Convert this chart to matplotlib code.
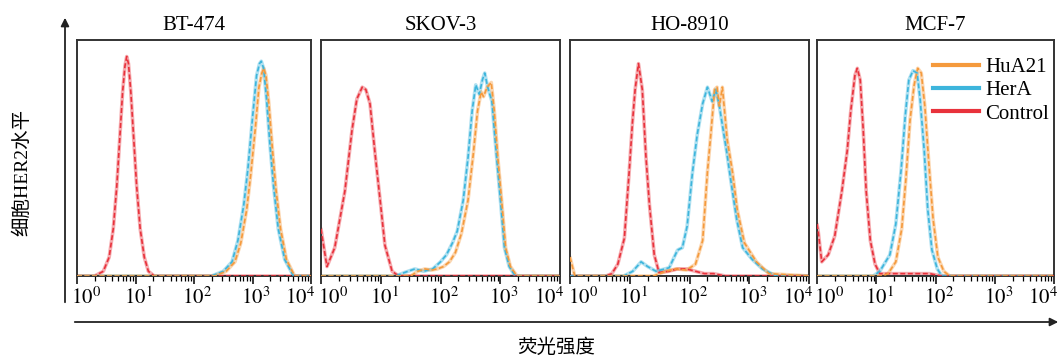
import numpy as np
import matplotlib
matplotlib.use("Agg")
import matplotlib.pyplot as plt
import matplotlib.transforms as mtransforms
from matplotlib.lines import Line2D
from matplotlib.patches import FancyArrowPatch

plt.rcParams['mathtext.fontset'] = 'stix'
plt.rcParams['font.family'] = ['Liberation Serif', 'Noto Sans CJK SC']

# ---------------- data (x as log10 fluorescence intensity, y as relative cell count) -------------
panel_titles = ["BT-474", "SKOV-3", "HO-8910", "MCF-7"]
series_names = ["HuA21", "HerA", "Control"]
tick_values = [1, 10, 100, 1000, 10000]
tick_labels = [r"$10^{0}$", r"$10^{1}$", r"$10^{2}$", r"$10^{3}$", r"$10^{4}$"]

# BT-474
bt_ctrl_x = [0, 0.3, 0.45, 0.55, 0.62, 0.68, 0.73, 0.78, 0.82, 0.85, 0.88, 0.92, 0.97, 1.02, 1.08, 1.15, 1.22, 1.32, 4.0]
bt_ctrl_y = [0, 0, 0.02, 0.08, 0.2, 0.38, 0.58, 0.78, 0.89, 0.93, 0.9, 0.78, 0.58, 0.38, 0.2, 0.08, 0.02, 0, 0]
bt_hera_x = [0, 2.3, 2.5, 2.65, 2.75, 2.85, 2.92, 3.0, 3.07, 3.12, 3.15, 3.19, 3.24, 3.3, 3.36, 3.44, 3.55, 3.7, 4.0]
bt_hera_y = [0, 0, 0.02, 0.06, 0.15, 0.3, 0.45, 0.67, 0.85, 0.9, 0.91, 0.88, 0.75, 0.55, 0.38, 0.2, 0.07, 0, 0]
bt_hua_x = [0, 2.35, 2.55, 2.7, 2.8, 2.9, 2.97, 3.05, 3.11, 3.16, 3.19, 3.23, 3.28, 3.34, 3.4, 3.48, 3.58, 3.72, 4.0]
bt_hua_y = [0, 0, 0.02, 0.06, 0.14, 0.28, 0.43, 0.63, 0.8, 0.86, 0.88, 0.85, 0.73, 0.54, 0.37, 0.2, 0.07, 0, 0]

# SKOV-3
sk_ctrl_x = [0, 0.03, 0.1, 0.23, 0.4, 0.52, 0.6, 0.69, 0.75, 0.82, 0.9, 0.99, 1.07, 1.19, 1.3, 4.0]
sk_ctrl_y = [0.2, 0.15, 0.04, 0.12, 0.36, 0.62, 0.75, 0.80, 0.79, 0.73, 0.53, 0.32, 0.13, 0.02, 0, 0]
sk_hera_x = [0, 1.25, 1.4, 1.57, 1.72, 1.87, 2.0, 2.1, 2.2, 2.28, 2.38, 2.46, 2.53, 2.59, 2.65, 2.7, 2.74, 2.79, 2.86, 2.93, 3.0, 3.07, 3.15, 3.25, 4.0]
sk_hera_y = [0, 0, 0.015, 0.03, 0.02, 0.03, 0.06, 0.09, 0.14, 0.19, 0.32, 0.5, 0.7, 0.81, 0.77, 0.83, 0.86, 0.8, 0.74, 0.53, 0.33, 0.12, 0.04, 0, 0]
sk_hua_x = [0, 1.5, 1.62, 1.74, 1.85, 1.95, 2.05, 2.15, 2.25, 2.35, 2.46, 2.55, 2.62, 2.68, 2.72, 2.78, 2.85, 2.9, 2.96, 3.02, 3.09, 3.17, 3.28, 4.0]
sk_hua_y = [0, 0, 0.02, 0.03, 0.025, 0.03, 0.04, 0.06, 0.1, 0.18, 0.32, 0.52, 0.7, 0.78, 0.76, 0.80, 0.82, 0.7, 0.5, 0.33, 0.12, 0.04, 0, 0]

# HO-8910
ho_ctrl_x = [0, 0.6, 0.7, 0.8, 0.91, 0.99, 1.045, 1.09, 1.146, 1.21, 1.27, 1.33, 1.41, 1.49, 1.65, 1.8, 1.95, 2.1, 2.25, 2.4, 2.6, 4.0]
ho_ctrl_y = [0, 0, 0.01, 0.05, 0.16, 0.44, 0.65, 0.79, 0.90, 0.79, 0.51, 0.30, 0.09, 0.015, 0.02, 0.03, 0.03, 0.02, 0.01, 0.01, 0, 0]
ho_hera_x = [0, 0.9, 1.05, 1.19, 1.3, 1.44, 1.66, 1.8, 1.88, 1.96, 2.05, 2.13, 2.22, 2.30, 2.38, 2.44, 2.5, 2.62, 2.70, 2.79, 2.89, 3.05, 3.22, 3.45, 4.0]
ho_hera_y = [0, 0, 0.02, 0.06, 0.04, 0.02, 0.035, 0.11, 0.12, 0.21, 0.44, 0.60, 0.73, 0.80, 0.74, 0.79, 0.72, 0.53, 0.39, 0.24, 0.12, 0.07, 0.03, 0, 0]
ho_hua_x = [0, 0.03, 0.08, 1.4, 1.6, 1.78, 1.95, 2.1, 2.22, 2.3, 2.36, 2.42, 2.46, 2.5, 2.55, 2.63, 2.72, 2.8, 2.92, 3.12, 3.33, 4.0]
ho_hua_y = [0.08, 0.05, 0, 0, 0.02, 0.03, 0.025, 0.05, 0.15, 0.44, 0.61, 0.79, 0.80, 0.72, 0.80, 0.58, 0.44, 0.28, 0.14, 0.06, 0.01, 0]

# MCF-7
mc_ctrl_x = [0, 0.02, 0.08, 0.19, 0.30, 0.42, 0.51, 0.57, 0.64, 0.68, 0.73, 0.78, 0.83, 0.9, 0.98, 1.06, 1.3, 1.6, 1.9, 2.1, 4.0]
mc_ctrl_y = [0.22, 0.19, 0.06, 0.09, 0.17, 0.36, 0.53, 0.70, 0.85, 0.88, 0.83, 0.62, 0.36, 0.15, 0.05, 0.01, 0.01, 0.01, 0.01, 0, 0]
mc_hera_x = [0, 0.95, 1.06, 1.23, 1.33, 1.42, 1.49, 1.55, 1.62, 1.69, 1.74, 1.81, 1.87, 1.94, 2.03, 2.11, 4.0]
mc_hera_y = [0, 0, 0.02, 0.09, 0.22, 0.45, 0.68, 0.83, 0.87, 0.86, 0.75, 0.53, 0.28, 0.11, 0.03, 0, 0]
mc_hua_x = [0, 1.1, 1.2, 1.33, 1.43, 1.5, 1.57, 1.64, 1.7, 1.76, 1.82, 1.89, 1.96, 2.04, 2.14, 2.24, 4.0]
mc_hua_y = [0, 0, 0.01, 0.06, 0.2, 0.41, 0.66, 0.81, 0.88, 0.86, 0.72, 0.47, 0.24, 0.08, 0.02, 0, 0]

panels = [
    [(bt_ctrl_x, bt_ctrl_y), (bt_hera_x, bt_hera_y), (bt_hua_x, bt_hua_y)],
    [(sk_ctrl_x, sk_ctrl_y), (sk_hera_x, sk_hera_y), (sk_hua_x, sk_hua_y)],
    [(ho_ctrl_x, ho_ctrl_y), (ho_hera_x, ho_hera_y), (ho_hua_x, ho_hua_y)],
    [(mc_ctrl_x, mc_ctrl_y), (mc_hera_x, mc_hera_y), (mc_hua_x, mc_hua_y)],
]

# ---------------- style ----------------
colors = ["#E8323C", "#3DB5DC", "#F59A3C"]   # Control, HerA, HuA21
W, H = 1061, 358
fig = plt.figure(figsize=(W / 100, H / 100), dpi=100)

boxes = [(77, 311), (321, 560), (570, 809), (817, 1054)]
top_px, bot_px = 40, 276

for i, (l, r) in enumerate(boxes):
    ax = fig.add_axes([l / W, 1 - bot_px / H, (r - l) / W, (bot_px - top_px) / H])
    for (xs, ys), c in zip(panels[i], colors):
        xv = 10 ** np.asarray(xs, dtype=float)
        yv = np.asarray(ys, dtype=float)
        ax.plot(xv, yv, color=c, lw=2.6, alpha=0.4, solid_capstyle='round', zorder=2)
        ax.plot(xv, yv, color=c, lw=1.2, ls=(0, (3, 1.5)), zorder=3)
    ax.set_xscale('log')
    ax.set_xlim(1, 10000)
    ax.set_ylim(0, 1.0)
    ax.set_yticks([])
    ax.set_xticks(tick_values)
    ax.set_xticklabels(tick_labels, fontsize=15)
    ax.tick_params(axis='x', which='major', direction='out', length=6, width=1.1, pad=2)
    ax.tick_params(axis='x', which='minor', direction='out', length=3.5, width=0.9)
    # shift labels: "10" centred on the tick, first label left-aligned, last right-aligned
    labs = ax.get_xticklabels()
    for k, lab in enumerate(labs):
        if k == 0:
            lab.set_ha('left')
            dx = -6 if i == 0 else -2.5
        elif k == len(labs) - 1:
            lab.set_ha('right')
            dx = 4
        else:
            dx = 3.5
        lab.set_transform(lab.get_transform() +
                          mtransforms.ScaledTranslation(dx / 100, 0, fig.dpi_scale_trans))
    for s in ax.spines.values():
        s.set_linewidth(1.4)
        s.set_color('#333333')
    ax.set_title(panel_titles[i], fontsize=15, pad=7)
    if i == 3:
        handles = [Line2D([], [], color=colors[2], lw=3),
                   Line2D([], [], color=colors[1], lw=3),
                   Line2D([], [], color=colors[0], lw=3)]
        ax.legend(handles, series_names, loc='upper left', bbox_to_anchor=(0.49, 0.925),
                  frameon=False, fontsize=15, handlelength=2.2, handletextpad=0.3,
                  labelspacing=0.17, borderpad=0, borderaxespad=0)

# axis arrows
fig.add_artist(FancyArrowPatch((65, H - 305), (65, H - 15), transform=None,
                               arrowstyle='-|>', mutation_scale=12, lw=1.3, color='#222222'))
fig.add_artist(FancyArrowPatch((72, H - 322), (1061, H - 322), transform=None,
                               arrowstyle='-|>', mutation_scale=12, lw=1.3, color='#222222'))

fig.text(22 / W, 1 - 172 / H, "细胞HER2水平", rotation=90, ha='center', va='center', fontsize=14)
fig.text(556 / W, 1 - 348 / H, "荧光强度", ha='center', va='center', fontsize=14)

fig.savefig("out.png", dpi=100)
